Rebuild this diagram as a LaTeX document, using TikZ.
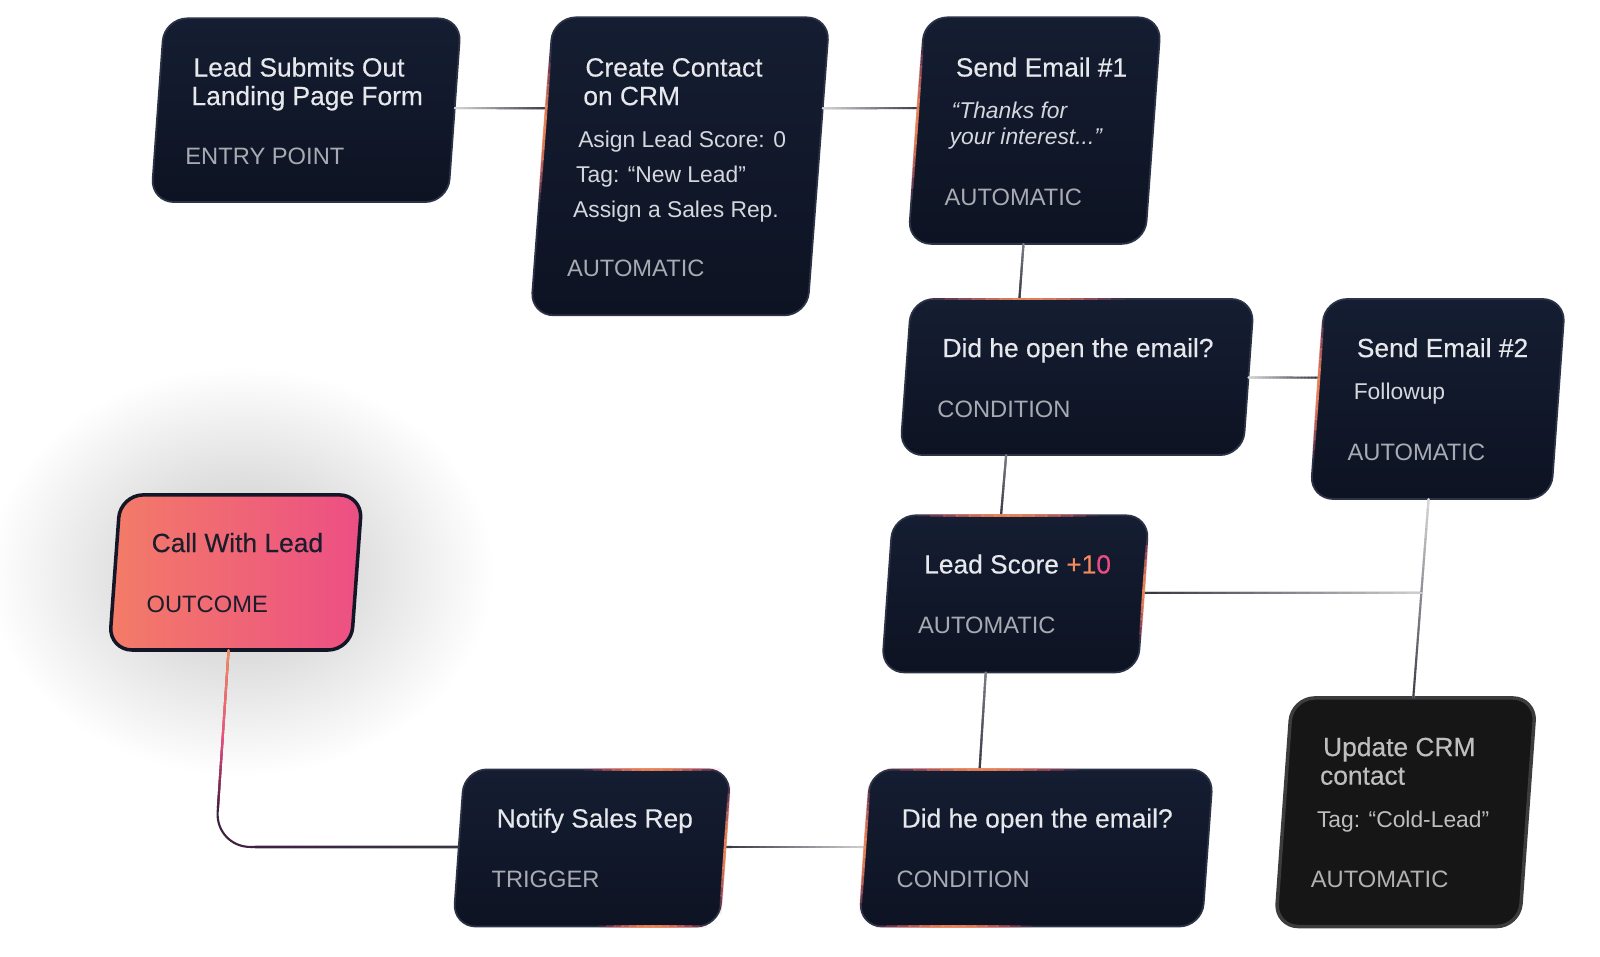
\documentclass[tikz,border=0pt]{standalone}
\usepackage{fontspec}
\setmainfont{Liberation Sans}
\newfontfamily\ttlfont[FakeBold=0.3]{Liberation Sans}
\usetikzlibrary{calc}
\definecolor{navyT}{HTML}{151D32}
\definecolor{navyB}{HTML}{0D1322}
\definecolor{edgec}{HTML}{2C3346}
\definecolor{ttlc}{HTML}{E6E8EC}
\definecolor{subc}{HTML}{D4D7DD}
\definecolor{lblc}{HTML}{A8ABB3}
\definecolor{accO}{HTML}{F58A5C}
\definecolor{accP}{HTML}{EC4C82}
\definecolor{cLight}{HTML}{D4D4D6}
\definecolor{cMid}{HTML}{7A7C84}
\definecolor{cDark}{HTML}{363944}
\definecolor{plum}{HTML}{3F2140}
\definecolor{gOr}{HTML}{F37C67}
\definecolor{gPk}{HTML}{EC4F84}
\definecolor{gBorder}{HTML}{121626}
\definecolor{gText}{HTML}{1A1D2C}
\definecolor{jFill}{HTML}{161616}
\definecolor{jEdge}{HTML}{3C3C3C}
\definecolor{jTtl}{HTML}{BEBEBE}
\definecolor{jLbl}{HTML}{B2B2B2}
\tikzset{
  ttl/.style={anchor=base west, text=ttlc, inner sep=0, font=\ttlfont\fontsize{7.5}{8.1}\selectfont},
  subt/.style={anchor=base west, text=subc, inner sep=0, font=\fontsize{6.5}{7.5}\selectfont},
  lblt/.style={anchor=base west, text=lblc, inner sep=0, font=\fontsize{6.75}{7.5}\selectfont},
  navybox/.style={top color=navyT, bottom color=navyB, draw=edgec, line width=0.5pt, rounded corners=6.5pt},
  outbox/.style={left color=gOr, right color=gPk, draw=gBorder, line width=1pt, rounded corners=6.5pt},
  crmbox/.style={fill=jFill, draw=jEdge, line width=1pt, rounded corners=6.5pt},
  conn/.style={draw=cMid, line width=0.6pt},
}
% #1 name, #2 x top-left, #3 x top-right, #4 y top, #5 y bottom, #6 skew shift, #7 style
\newcommand\skbox[7]{%
  \coordinate (#1-tl) at (#2,#4);
  \coordinate (#1-tr) at (#3,#4);
  \coordinate (#1-br) at ({#3-#6},#5);
  \coordinate (#1-bl) at ({#2-#6},#5);
  \path[#7] (#1-tl) -- (#1-tr) -- (#1-br) -- (#1-bl) -- cycle;
  \node[inner sep=0, minimum size=0] (#1) at ($(#1-tl)!0.5!(#1-br)$) {};
}
% gradient connector
\newcommand\gconn[4]{%
  \draw[conn, draw=#3] (#1) -- (#2);
  \foreach \i in {0,...,19}{%
    \pgfmathtruncatemacro\mx{100-5*\i}%
    \draw[line width=0.6pt, line cap=round, draw=#3!\mx!#4] ($(#1)!{\i/20}!(#2)$) -- ($(#1)!{(\i+1)/20}!(#2)$);
  }}
% glowing accent along a box edge
\newcommand\glowedge[2]{%
  \foreach \i in {0,...,13}{%
    \pgfmathsetmacro\op{0.9*sin(180*(\i+0.5)/14)}%
    \pgfmathtruncatemacro\mx{100*sin(180*(\i+0.5)/14)}%
    \draw[line width=0.8pt, line cap=round, draw=accO!\mx!accP, draw opacity=\op] ($(#1)!{\i/14}!(#2)$) -- ($(#1)!{(\i+1)/14}!(#2)$);
  }}
\begin{document}
\begin{tikzpicture}[x=0.010204cm, y=-0.010204cm]
\useasboundingbox (0,0) rectangle (1568,937);
\fill[white] (0,0) rectangle (1568,937);

% glow behind the outcome
\shade[inner color=black!23, outer color=white] (236,560) ellipse (248 and 200);

% ---------- boxes ----------
\skbox{A}{161}{452}{18}{198}{13}{navybox}
\skbox{B}{542}{813}{17}{309}{22}{navybox}
\skbox{C}{906}{1138}{17}{239}{16}{navybox}
\skbox{D}{893}{1229}{293}{446}{11}{navybox}
\skbox{E}{1298}{1534}{293}{489}{14}{navybox}
\skbox{F}{875}{1126}{505}{659}{11}{navybox}
\skbox{G}{118}{355}{485}{637}{11}{outbox}
\skbox{H}{455}{716}{754}{908}{11}{navybox}
\skbox{I}{853}{1189}{754}{908}{11}{navybox}
\skbox{J}{1266}{1505}{684}{908}{16}{crmbox}

% ---------- ports ----------
\coordinate (A-r) at ($(A-tr)!0.489!(A-br)$);
\coordinate (B-l) at ($(B-tl)!0.305!(B-bl)$);
\coordinate (B-r) at ($(B-tr)!0.305!(B-br)$);
\coordinate (C-l) at ($(C-tl)!0.401!(C-bl)$);
\coordinate (C-b) at (1003,239);
\coordinate (D-t) at (999,293);
\coordinate (D-r) at ($(D-tr)!0.503!(D-br)$);
\coordinate (D-b) at (986,446);
\coordinate (E-l) at ($(E-tl)!0.393!(E-bl)$);
\coordinate (E-b) at (1400,489);
\coordinate (F-t) at (981,505);
\coordinate (F-r) at ($(F-tr)!0.494!(F-br)$);
\coordinate (F-b) at (966,659);
\coordinate (J-t) at (1385,684);
\coordinate (J-k) at ($(E-b)!0.4718!(J-t)$);
\coordinate (I-t) at (960,754);
\coordinate (I-l) at ($(I-tl)!0.494!(I-bl)$);
\coordinate (H-r) at ($(H-tr)!0.494!(H-br)$);
\coordinate (H-l) at ($(H-tl)!0.494!(H-bl)$);
\coordinate (G-b) at (224,637);
\coordinate (G-k) at (211,830);
\coordinate (G-m1) at ($(G-b)!0.45!(G-k)$);
\coordinate (G-m2) at ($(G-b)!0.8!(G-k)$);
\coordinate (G-h) at (250,830);

% ---------- connectors ----------
\gconn{A-r}{B-l}{cLight}{cDark}
\gconn{B-r}{C-l}{cLight}{cDark}
\gconn{C-b}{D-t}{cMid}{cDark}
\gconn{D-r}{E-l}{cLight}{cDark}
\gconn{D-b}{F-t}{cMid}{cDark}
\gconn{E-b}{J-t}{cLight}{cDark}
\gconn{F-r}{J-k}{cDark}{cLight}
\gconn{F-b}{I-t}{cMid}{cDark}
\gconn{H-r}{I-l}{cDark}{cLight}
\draw[line width=0.6pt, draw=plum, rounded corners=10pt] (G-b) -- (G-k) -- (H-l);
\gconn{G-b}{G-m1}{accO}{accP}
\gconn{G-m1}{G-m2}{accP}{plum}
\gconn{G-h}{H-l}{plum}{cDark}

% ---------- edge accents ----------
\glowedge{$(B-tl)!0.12!(B-bl)$}{$(B-tl)!0.62!(B-bl)$}
\glowedge{$(C-tl)!0.12!(C-bl)$}{$(C-tl)!0.8!(C-bl)$}
\glowedge{$(D-tl)!0.06!(D-tr)$}{$(D-tl)!0.62!(D-tr)$}
\glowedge{$(E-tl)!0.1!(E-bl)$}{$(E-tl)!0.8!(E-bl)$}
\glowedge{$(F-tl)!0.1!(F-tr)$}{$(F-tl)!0.8!(F-tr)$}
\glowedge{$(F-tr)!0.15!(F-br)$}{$(F-tr)!0.8!(F-br)$}
\glowedge{$(H-tl)!0.45!(H-tr)$}{$(H-tl)!0.96!(H-tr)$}
\glowedge{$(H-tr)!0.1!(H-br)$}{$(H-tr)!0.92!(H-br)$}
\glowedge{$(H-bl)!0.55!(H-br)$}{$(H-bl)!0.95!(H-br)$}
\glowedge{$(I-tl)!0.05!(I-tr)$}{$(I-tl)!0.6!(I-tr)$}
\glowedge{$(I-tl)!0.1!(I-bl)$}{$(I-tl)!0.9!(I-bl)$}
\glowedge{$(I-bl)!0.05!(I-br)$}{$(I-bl)!0.5!(I-br)$}

% ---------- texts ----------
\node[ttl] (A1) at (189,75) {Lead Submits Out};
\node[ttl] (A2) at (187,103) {Landing Page Form};
\node[lblt] (A3) at (181,161) {ENTRY POINT};

\node[ttl] (B1) at (573,75) {Create Contact};
\node[ttl] (B2) at (571,103) {on CRM};
\node[subt] (B3) at (566,145) {Asign Lead Score: 0};
\node[subt] (B4) at (564,179) {Tag: “New Lead”};
\node[subt] (B5) at (561,213) {Assign a Sales Rep.};
\node[lblt] (B6) at (555,271) {AUTOMATIC};

\node[ttl] (C1) at (936,75) {Send Email \#1};
\node[subt, font=\fontsize{6.5}{7.5}\selectfont\itshape] (C2) at (932,116) {“Thanks for};
\node[subt, font=\fontsize{6.5}{7.5}\selectfont\itshape] (C3) at (930,142) {your interest...”};
\node[lblt] (C4) at (925,201) {AUTOMATIC};

\node[ttl] (D1) at (923,350) {Did he open the email?};
\node[lblt] (D2) at (918,409) {CONDITION};

\node[ttl] (E1) at (1329,350) {Send Email \#2};
\node[subt] (E2) at (1326,392) {Followup};
\node[lblt] (E3) at (1320,451) {AUTOMATIC};

\node[ttl] (F1) at (905,562) {Lead Score {\color{accO}+1\color{accP}0}};
\node[lblt] (F2) at (899,621) {AUTOMATIC};

\node[ttl, text=gText] (G1) at (148,541) {Call With Lead};
\node[lblt, text=gText] (G2) at (143,600) {OUTCOME};

\node[ttl] (H1) at (486,811) {Notify Sales Rep};
\node[lblt] (H2) at (481,870) {TRIGGER};

\node[ttl] (I1) at (883,811) {Did he open the email?};
\node[lblt] (I2) at (878,870) {CONDITION};

\node[ttl, text=jTtl] (J1) at (1296,741) {Update CRM};
\node[ttl, text=jTtl] (J2) at (1293,769) {contact};
\node[subt, text=jTtl] (J3) at (1290,811) {Tag: “Cold-Lead”};
\node[lblt, text=jLbl] (J4) at (1284,870) {AUTOMATIC};
\end{tikzpicture}
\end{document}
